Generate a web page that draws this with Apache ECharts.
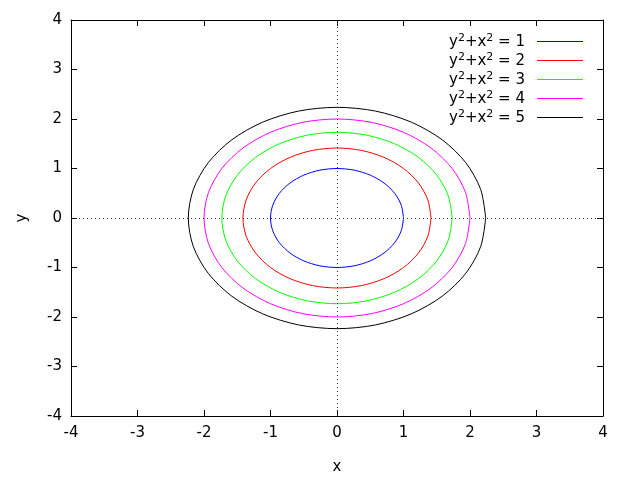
<!DOCTYPE html>
<html><head><meta charset="utf-8">
<script src="https://cdn.jsdelivr.net/npm/echarts@6/dist/echarts.min.js"></script>
<style>html,body{margin:0;padding:0;background:#fff}#c{width:640px;height:480px}</style>
</head><body><div id="c"></div>
<script>
const levels = ['1', '2', '3', '4', '5'];
const colors = ['#0000ff', '#ff0000', '#00ff00', '#ff00ff', '#000000'];
const xTicks = [-4, -3, -2, -1, 0, 1, 2, 3, 4];
const yTicks = [-4, -3, -2, -1, 0, 1, 2, 3, 4];

const c1x = [1,0.966,0.866,0.707,0.5,0.259,0,-0.259,-0.5,-0.707,-0.866,-0.966,-1,-0.966,-0.866,-0.707,-0.5,-0.259,0,0.259,0.5,0.707,0.866,0.966,1];
const c1y = [0,0.259,0.5,0.707,0.866,0.966,1,0.966,0.866,0.707,0.5,0.259,0,-0.259,-0.5,-0.707,-0.866,-0.966,-1,-0.966,-0.866,-0.707,-0.5,-0.259,0];

const c2x = [1.414,1.366,1.225,1.0,0.707,0.366,0,-0.366,-0.707,-1.0,-1.225,-1.366,-1.414,-1.366,-1.225,-1.0,-0.707,-0.366,0,0.366,0.707,1.0,1.225,1.366,1.414];
const c2y = [0,0.366,0.707,1.0,1.225,1.366,1.414,1.366,1.225,1.0,0.707,0.366,0,-0.366,-0.707,-1.0,-1.225,-1.366,-1.414,-1.366,-1.225,-1.0,-0.707,-0.366,0];

const c3x = [1.732,1.673,1.5,1.225,0.866,0.448,0,-0.448,-0.866,-1.225,-1.5,-1.673,-1.732,-1.673,-1.5,-1.225,-0.866,-0.448,0,0.448,0.866,1.225,1.5,1.673,1.732];
const c3y = [0,0.448,0.866,1.225,1.5,1.673,1.732,1.673,1.5,1.225,0.866,0.448,0,-0.448,-0.866,-1.225,-1.5,-1.673,-1.732,-1.673,-1.5,-1.225,-0.866,-0.448,0];

const c4x = [2,1.932,1.732,1.414,1,0.518,0,-0.518,-1,-1.414,-1.732,-1.932,-2,-1.932,-1.732,-1.414,-1,-0.518,0,0.518,1,1.414,1.732,1.932,2];
const c4y = [0,0.518,1,1.414,1.732,1.932,2,1.932,1.732,1.414,1,0.518,0,-0.518,-1,-1.414,-1.732,-1.932,-2,-1.932,-1.732,-1.414,-1,-0.518,0];

const c5x = [2.236,2.16,1.936,1.581,1.118,0.579,0,-0.579,-1.118,-1.581,-1.936,-2.16,-2.236,-2.16,-1.936,-1.581,-1.118,-0.579,0,0.579,1.118,1.581,1.936,2.16,2.236];
const c5y = [0,0.579,1.118,1.581,1.936,2.16,2.236,2.16,1.936,1.581,1.118,0.579,0,-0.579,-1.118,-1.581,-1.936,-2.16,-2.236,-2.16,-1.936,-1.581,-1.118,-0.579,0];

const contoursX = [c1x, c2x, c3x, c4x, c5x];
const contoursY = [c1y, c2y, c3y, c4y, c5y];

const FONT = 'DejaVu Sans';
const FS = 15;
const chart = echarts.init(document.getElementById('c'), null, {renderer: 'canvas'});

function axisBase(extra) {
  return Object.assign({
    type: 'value', min: -4, max: 4, interval: 1,
    axisLine: {show: true, onZero: false, lineStyle: {color: '#000', width: 1}},
    axisTick: {show: true, inside: true, length: 6, lineStyle: {color: '#000'}},
    splitLine: {show: false},
    axisLabel: {show: true, color: '#000', fontSize: FS, fontFamily: FONT},
    nameTextStyle: {color: '#000', fontSize: FS, fontFamily: FONT}
  }, extra);
}

const series = levels.map((lv, i) => ({
  name: 'y²+x² = ' + lv,
  type: 'line',
  symbol: 'none',
  smooth: 0.3,
  data: contoursX[i].map((x, j) => [x, contoursY[i][j]]),
  lineStyle: {color: colors[i], width: 1},
  itemStyle: {color: colors[i]},
  z: 3
}));
series.unshift({
  name: 'zero', type: 'line', data: [], z: 1, symbol: 'none',
  markLine: {
    silent: true, symbol: ['none', 'none'], animation: false,
    label: {show: false},
    lineStyle: {color: '#333', width: 1, type: [1, 3]},
    data: [{xAxis: 0}, {yAxis: 0}]
  }
});

chart.setOption({
  animation: false,
  backgroundColor: '#fff',
  textStyle: {fontFamily: FONT},
  grid: {left: 71, right: 37, top: 20, bottom: 61, containLabel: false},
  xAxis: [
    axisBase({position: 'bottom', name: 'x', nameLocation: 'middle', nameGap: 44,
      axisLabel: {show: true, color: '#000', fontSize: FS, fontFamily: FONT, margin: 10,
        formatter: v => xTicks.includes(v) ? String(v) : ''}}),
    axisBase({position: 'top', axisLabel: {show: false}})
  ],
  yAxis: [
    axisBase({position: 'left', name: 'y', nameLocation: 'middle', nameGap: 41, nameRotate: 90,
      axisLabel: {show: true, color: '#000', fontSize: FS, fontFamily: FONT, margin: 9,
        formatter: v => yTicks.includes(v) ? String(v) : ''}}),
    axisBase({position: 'right', axisLabel: {show: false}})
  ],
  legend: {
    show: true,
    data: levels.map(lv => 'y²+x² = ' + lv),
    orient: 'vertical',
    right: 52, top: 28,
    align: 'right',
    icon: 'rect',
    itemWidth: 46, itemHeight: 1, itemGap: 2,
    itemStyle: {borderWidth: 0},
    formatter: function (name) {
      const lv = name.split('= ')[1];
      return '{b|y}{s|2}{b|+x}{s|2}{b| = ' + lv + '}';
    },
    textStyle: {
      color: '#000', fontFamily: FONT, padding: [0, 7, 0, 0],
      rich: {
        b: {fontSize: 15, fontFamily: FONT, color: '#000', lineHeight: 17, verticalAlign: 'bottom'},
        s: {fontSize: 11, fontFamily: FONT, color: '#000', lineHeight: 17, verticalAlign: 'top', padding: [0, 0, 6, 0]}
      }
    }
  },
  series: series
});
</script></body></html>
